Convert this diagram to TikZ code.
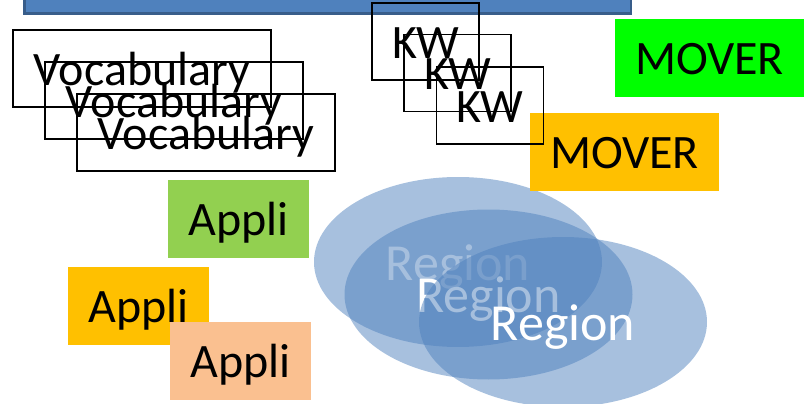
\documentclass[tikz,border=0pt]{standalone}
\usepackage{fontspec}
\setmainfont{Carlito}
\usepackage{tikz}
\usetikzlibrary{shapes.geometric}
\definecolor{barblue}{RGB}{79,129,189}
\definecolor{bardark}{RGB}{56,93,138}
\definecolor{movergreen}{RGB}{0,255,0}
\definecolor{moverorange}{RGB}{255,192,0}
\definecolor{appligreen}{RGB}{146,208,80}
\definecolor{applipeach}{RGB}{250,192,144}

\begin{document}
\begin{tikzpicture}[x=1pt, y=-1pt,
    boxtext/.style={font=\fontsize{48}{52}\selectfont, text height=38.4pt, text depth=4.8pt, inner sep=0pt},
    vocabbox/.style={boxtext, draw=black, line width=1.2pt, minimum width=258pt, minimum height=77pt},
    kwbox/.style={boxtext, draw=black, line width=1.2pt, minimum width=107pt, minimum height=77pt},
    moverbox/.style={boxtext, fill=#1, minimum width=189pt, minimum height=78pt},
    applibox/.style={boxtext, fill=#1, minimum width=141pt, minimum height=78pt},
    regionblob/.style={ellipse, fill=barblue, fill opacity=0.5, text opacity=1, text=white,
        font=\fontsize{52}{56}\selectfont, text height=41.6pt, text depth=5.2pt,
        inner sep=0pt, minimum width=288pt, minimum height=170pt}]
    \useasboundingbox (0,0) rectangle (807,404);

    % title bar, cut at the top edge
    \draw[bardark, line width=2.5pt, fill=barblue] (24.25,-10) rectangle (630.75,13.5);

    % overlapping regions
    \node[regionblob] (region1) at (458,262) {Region};
    \node[regionblob] (region2) at (488.5,294.5) {Region};
    \node[regionblob] (region3) at (563,322) {Region};

    \node[vocabbox] (vocab1) at (142,68.5) {Vocabulary};
    \node[vocabbox] (vocab2) at (174,100.5) {Vocabulary};
    \node[vocabbox] (vocab3) at (206,132.5) {Vocabulary};

    \node[moverbox=movergreen] (mover1) at (709.5,58) {MOVER};
    \node[moverbox=moverorange] (mover2) at (624.5,152) {MOVER};

    \node[kwbox] (kw1) at (425.5,41.5) {KW};
    \node[kwbox] (kw2) at (457.5,73) {KW};
    \node[kwbox] (kw3) at (490,105.5) {KW};

    \node[applibox=appligreen] (appli1) at (238.5,219) {Appli};
    \node[applibox=moverorange] (appli2) at (138.5,306) {Appli};
    \node[applibox=applipeach] (appli3) at (240.5,361) {Appli};
\end{tikzpicture}
\end{document}
